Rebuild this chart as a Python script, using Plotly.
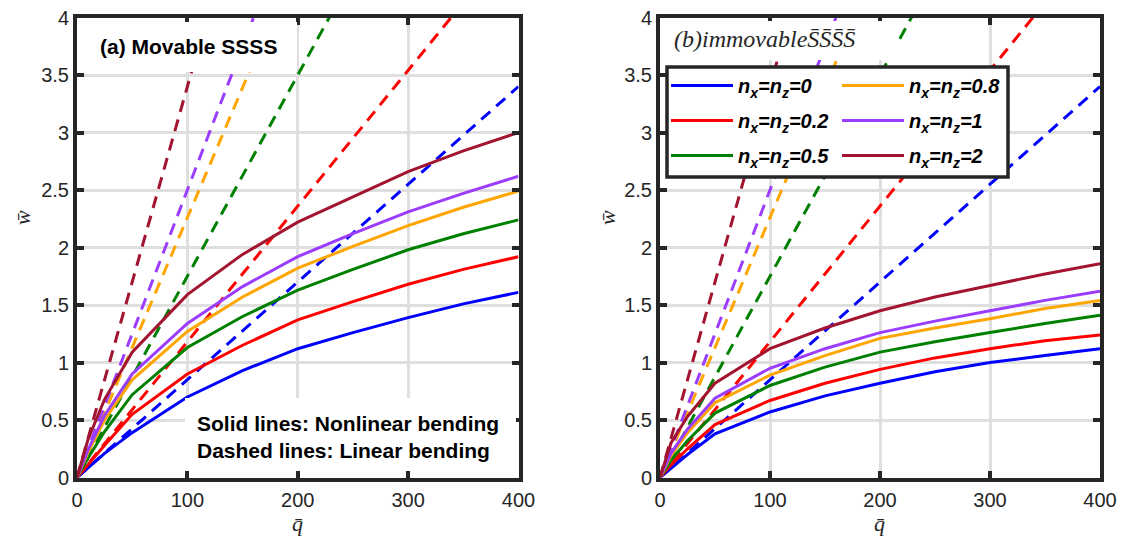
import plotly.graph_objects as go

W, H = 1121, 537

# ---------------- data ----------------
q_nonlinear = [0, 10, 25, 50, 100, 150, 200, 250, 300, 350, 400]
q_linear = [0, 400]

param_labels = ["0", "0.2", "0.5", "0.8", "1", "2"]
line_colors = ["#0000FF", "#FF0000", "#008000", "#FFA500", "#9B3DFF", "#A2142F"]

# (a) Movable SSSS - nonlinear bending
mov_n0 = [0, 0.085, 0.21, 0.39, 0.70, 0.93, 1.12, 1.26, 1.39, 1.51, 1.61]
mov_n02 = [0, 0.115, 0.28, 0.55, 0.90, 1.15, 1.37, 1.53, 1.68, 1.81, 1.92]
mov_n05 = [0, 0.17, 0.40, 0.72, 1.13, 1.40, 1.63, 1.81, 1.98, 2.12, 2.24]
mov_n08 = [0, 0.22, 0.50, 0.85, 1.27, 1.57, 1.82, 2.01, 2.19, 2.35, 2.49]
mov_n1 = [0, 0.24, 0.54, 0.90, 1.34, 1.66, 1.92, 2.12, 2.31, 2.47, 2.62]
mov_n2 = [0, 0.33, 0.68, 1.09, 1.59, 1.94, 2.22, 2.44, 2.66, 2.84, 3.00]

# (b) Immovable SSSS - nonlinear bending
imm_n0 = [0, 0.08, 0.20, 0.38, 0.57, 0.71, 0.82, 0.92, 1.00, 1.06, 1.12]
imm_n02 = [0, 0.11, 0.25, 0.46, 0.67, 0.82, 0.94, 1.04, 1.12, 1.19, 1.24]
imm_n05 = [0, 0.15, 0.32, 0.56, 0.80, 0.96, 1.09, 1.18, 1.26, 1.34, 1.41]
imm_n08 = [0, 0.19, 0.39, 0.65, 0.89, 1.06, 1.21, 1.30, 1.38, 1.47, 1.54]
imm_n1 = [0, 0.21, 0.42, 0.69, 0.95, 1.12, 1.26, 1.36, 1.45, 1.54, 1.62]
imm_n2 = [0, 0.30, 0.53, 0.82, 1.12, 1.30, 1.45, 1.57, 1.67, 1.77, 1.86]

# Linear bending (dashed), endpoints at q = 0 and q = 400
lin_n0 = [0, 3.40]
lin_n02 = [0, 4.72]
lin_n05 = [0, 7.00]
lin_n08 = [0, 9.04]
lin_n1 = [0, 10.0]
lin_n2 = [0, 13.6]

mov_sets = [mov_n0, mov_n02, mov_n05, mov_n08, mov_n1, mov_n2]
imm_sets = [imm_n0, imm_n02, imm_n05, imm_n08, imm_n1, imm_n2]
lin_sets = [lin_n0, lin_n02, lin_n05, lin_n08, lin_n1, lin_n2]

# ---------------- figure ----------------
def px_x(p):
    return p / W


def px_y(p):
    return 1 - p / H


fig = go.Figure()

for i, (lab, col) in enumerate(zip(param_labels, line_colors)):
    name = f"<b><i>n<sub>x</sub>=n<sub>z</sub>={lab}</i></b>"
    leg = "legend" if i < 3 else "legend2"
    # panel (a)
    fig.add_trace(go.Scatter(x=q_linear, y=lin_sets[i], mode="lines",
                             line=dict(color=col, width=3, dash="12px,8px"),
                             showlegend=False, xaxis="x", yaxis="y", hoverinfo="skip"))
    fig.add_trace(go.Scatter(x=q_nonlinear, y=mov_sets[i], mode="lines",
                             line=dict(color=col, width=3), name=name,
                             legend=leg, legendgroup=f"g{i}", showlegend=True,
                             xaxis="x", yaxis="y"))
    # panel (b)
    fig.add_trace(go.Scatter(x=q_linear, y=lin_sets[i], mode="lines",
                             line=dict(color=col, width=3, dash="12px,8px"),
                             showlegend=False, xaxis="x2", yaxis="y2", hoverinfo="skip"))
    fig.add_trace(go.Scatter(x=q_nonlinear, y=imm_sets[i], mode="lines",
                             line=dict(color=col, width=3), showlegend=False,
                             xaxis="x2", yaxis="y2"))

axis_font = dict(family="Liberation Sans, Arial, sans-serif", size=20, color="#262626")
common = dict(showline=True, linecolor="#262626", linewidth=4, mirror="ticks",
              ticks="inside", ticklen=7, tickwidth=4, tickcolor="#262626",
              showgrid=True, gridcolor="#DFDFDF", gridwidth=3, zeroline=False,
              tickfont=axis_font, automargin=False, ticklabeloverflow="allow")

ydom = [px_y(477.5), px_y(17.5)]
fig.update_layout(
    width=W, height=H,
    margin=dict(l=0, r=0, t=0, b=0, autoexpand=False),
    paper_bgcolor="white", plot_bgcolor="white",
    xaxis=dict(domain=[px_x(77), px_x(518.5)], range=[0, 400], dtick=100,
               anchor="y", ticklabelstandoff=1, **common),
    yaxis=dict(domain=ydom, range=[0, 4], dtick=0.5, anchor="x",
               ticklabelstandoff=0, **common),
    xaxis2=dict(domain=[px_x(660), px_x(1100)], range=[0, 400], dtick=100,
                anchor="y2", ticklabelstandoff=1, **common),
    yaxis2=dict(domain=ydom, range=[0, 4], dtick=0.5, anchor="x2",
                ticklabelstandoff=0, **common),
    legend=dict(x=px_x(666), y=px_y(66), xanchor="left", yanchor="top",
                bgcolor="rgba(0,0,0,0)", borderwidth=0, itemwidth=62,
                tracegroupgap=6, orientation="v",
                font=dict(family="Liberation Sans, Arial, sans-serif", size=20, color="black")),
    legend2=dict(x=px_x(837), y=px_y(66), xanchor="left", yanchor="top",
                 bgcolor="rgba(0,0,0,0)", borderwidth=0, itemwidth=62,
                 tracegroupgap=6, orientation="v",
                 font=dict(family="Liberation Sans, Arial, sans-serif", size=20, color="black")),
    showlegend=True,
)

# white boxes behind texts and the legend frame
boxes = [
    (80, 22, 297, 72, 0),      # title (a)
    (662, 21, 898, 60, 0),     # title (b)
    (185, 398, 516, 471, 0),   # line-style note
    (667, 67, 1008, 177, 3.5), # legend frame
]
for x0, y0, x1, y1, lw in boxes:
    fig.add_shape(type="rect", xref="paper", yref="paper",
                  x0=px_x(x0), x1=px_x(x1), y0=px_y(y1), y1=px_y(y0),
                  fillcolor="white", layer="above",
                  line=dict(color="#262626", width=lw) if lw else dict(width=0))

sans = "Liberation Sans, Arial, sans-serif"
serif = "Liberation Serif, Times New Roman, serif"
ann = [
    dict(text="<b>(a) Movable SSSS</b>", x=px_x(98), y=px_y(46.5), xanchor="left",
         yanchor="middle", font=dict(family=sans, size=21, color="black")),
    dict(text="<i>(b)immovableS\u0304S\u0304S\u0304S\u0304</i>", x=px_x(672), y=px_y(39),
         xanchor="left", yanchor="middle", font=dict(family=serif, size=24, color="#262626")),
    dict(text="<b>Solid lines: Nonlinear bending</b><br><b>Dashed lines: Linear bending</b>",
         x=px_x(195), y=px_y(437.5), xanchor="left", yanchor="middle", align="left",
         font=dict(family=sans, size=21, color="black")),
    dict(text="<i>q\u0304</i>", x=px_x(297), y=px_y(523), xanchor="center", yanchor="middle",
         font=dict(family=serif, size=22, color="#262626")),
    dict(text="<i>q\u0304</i>", x=px_x(879), y=px_y(523), xanchor="center", yanchor="middle",
         font=dict(family=serif, size=22, color="#262626")),
    dict(text="<i>w\u0304</i>", x=px_x(22), y=px_y(218), xanchor="center", yanchor="middle",
         textangle=-90, font=dict(family=serif, size=22, color="#262626")),
    dict(text="<i>w\u0304</i>", x=px_x(607), y=px_y(218), xanchor="center", yanchor="middle",
         textangle=-90, font=dict(family=serif, size=22, color="#262626")),
]
for a in ann:
    fig.add_annotation(xref="paper", yref="paper", showarrow=False, **a)

# remove the default page margin so the 1121x537 figure fills the window exactly
fig.write_html("out.html", config={"displayModeBar": False},
               post_script="document.body.style.margin='0px';")
